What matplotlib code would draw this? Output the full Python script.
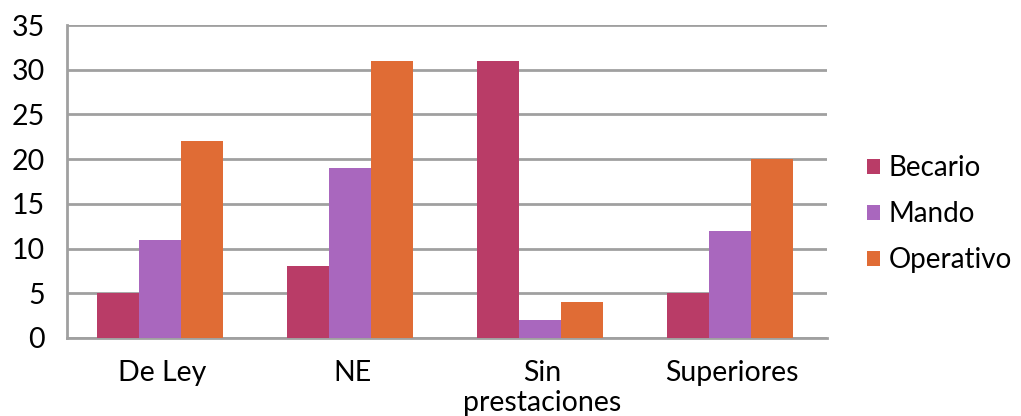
import matplotlib
matplotlib.use("Agg")
import matplotlib.pyplot as plt
import numpy as np

categories = ["De Ley", "NE", "Sin\nprestaciones", "Superiores"]
series_names = ["Becario", "Mando", "Operativo"]
becario = [5, 8, 31, 5]
mando = [11, 19, 2, 12]
operativo = [22, 31, 4, 20]
colors = ["#B93C67", "#A967BE", "#E06C35"]
yticks = [0, 5, 10, 15, 20, 25, 30, 35]

plt.rcParams["font.family"] = ["Lato", "DejaVu Sans"]

fig = plt.figure(figsize=(10.21, 4.16), dpi=100)
ax = fig.add_axes([67 / 1021, 1 - 338 / 416, (827 - 67) / 1021, (338 - 25) / 416])

x = np.arange(len(categories))
w = 0.222
for i, (vals, name, c) in enumerate(zip([becario, mando, operativo], series_names, colors)):
    ax.bar(x + (i - 1) * w - 0.01, vals, width=w, color=c, label=name, zorder=3)

ax.set_xlim(-0.5, len(categories) - 0.5)
ax.set_ylim(0, 35)
ax.set_yticks(yticks)
ax.set_xticks(x)
ax.set_xticklabels(categories, fontsize=20.5, linespacing=1.2)
ax.tick_params(axis="y", labelsize=20.5, length=0, pad=16)
ax.tick_params(axis="x", length=0, pad=16)

ax.grid(axis="y", color="#A0A0A0", linewidth=2, zorder=0)
for side in ["top", "right"]:
    ax.spines[side].set_visible(False)
ax.spines["left"].set_color("#A0A0A0")
ax.spines["left"].set_linewidth(2)
ax.spines["bottom"].set_color("#A0A0A0")
ax.spines["bottom"].set_linewidth(2)

leg = ax.legend(loc="center left", bbox_to_anchor=(1.052, 0.395), frameon=False,
                borderaxespad=0, borderpad=0,
                fontsize=20, handlelength=0.5, handleheight=0.5, handletextpad=0.3,
                labelspacing=0.72)

fig.savefig("out.png", dpi=100)
